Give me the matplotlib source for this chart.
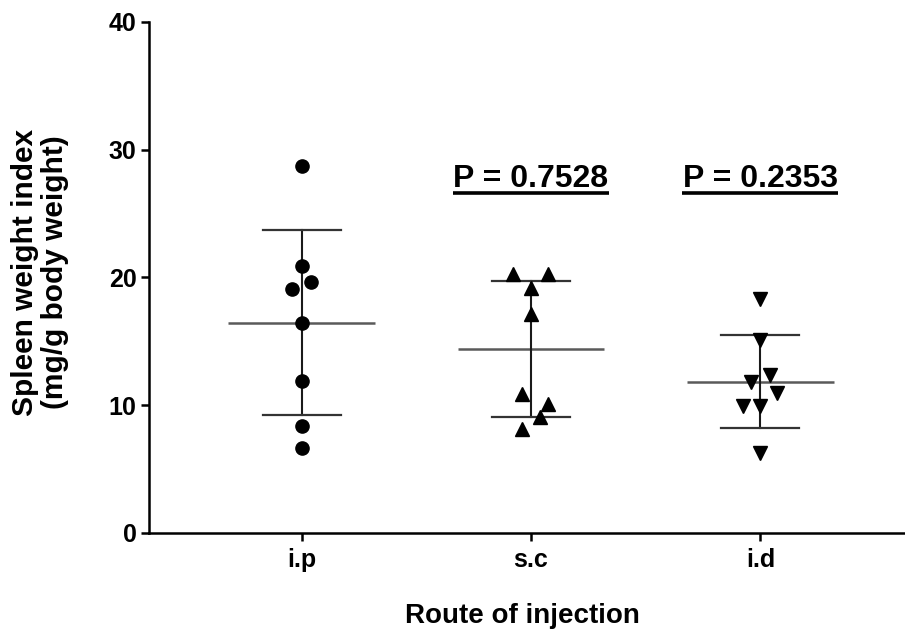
import numpy as np
import matplotlib
matplotlib.use("Agg")
import matplotlib.pyplot as plt

plt.rcParams['font.family'] = ['Liberation Sans', 'DejaVu Sans']
plt.rcParams['font.weight'] = 'bold'

categories = ["i.p", "s.c", "i.d"]
ip_values = [28.7, 20.9, 19.65, 19.1, 16.45, 11.9, 8.4, 6.65]
sc_values = [20.3, 20.3, 19.2, 17.1, 10.9, 10.1, 9.1, 8.1]
id_values = [18.3, 15.1, 12.4, 11.85, 10.95, 9.95, 9.9, 6.25]
p_labels = ["", "P = 0.7528", "P = 0.2353"]

# horizontal spread of the points (scatter layout, data-unit offsets)
ip_offsets = [0, 0, 0.04, -0.04, 0, 0, 0, 0]
sc_offsets = [-0.078, 0.074, 0, 0, -0.04, 0.074, 0.038, -0.04]
id_offsets = [0, 0, 0.04, -0.04, 0.074, -0.074, 0, 0]

groups = [ip_values, sc_values, id_values]
offsets = [ip_offsets, sc_offsets, id_offsets]
markers = ['o', '^', 'v']
msizes = [9.5, 9.5, 9.5]

fig = plt.figure(figsize=(9.05, 6.39), dpi=100)
ax = fig.add_axes([0.1646, 0.166, 0.8354, 0.7996])

for i, (vals, offs, m, ms) in enumerate(zip(groups, offsets, markers, msizes)):
    vals = np.array(vals)
    mean = vals.mean()
    sd = vals.std(ddof=1)
    # mean line
    ax.plot([i - 0.32, i + 0.32], [mean, mean], color='#5a5a5a', lw=1.8, zorder=2,
            solid_capstyle='butt')
    # SD error bar
    ax.plot([i, i], [mean - sd, mean + sd], color='#1a1a1a', lw=1.5, zorder=2)
    ax.plot([i - 0.17, i + 0.17], [mean + sd, mean + sd], color='#333333', lw=1.6, zorder=2)
    ax.plot([i - 0.17, i + 0.17], [mean - sd, mean - sd], color='#333333', lw=1.6, zorder=2)
    ax.plot(i + np.array(offs), vals, linestyle='none', marker=m, markersize=ms,
            color='black', zorder=3)
    if p_labels[i]:
        ax.text(i, 27.1, p_labels[i], ha='center', va='baseline', fontsize=23,
                fontweight='bold')
        ax.plot([i - 0.34, i + 0.34], [26.65, 26.65], color='black', lw=2.6,
                solid_capstyle='butt')

ax.set_xlim(-0.665, 2.63)
ax.set_ylim(0, 40)
ax.set_yticks([0, 10, 20, 30, 40])
ax.set_xticks(range(3))
ax.set_xticklabels(categories)
for s in ['top', 'right']:
    ax.spines[s].set_visible(False)
for s in ['left', 'bottom']:
    ax.spines[s].set_linewidth(1.8)
ax.tick_params(axis='both', width=1.8, length=6, labelsize=18, direction='out')
ax.tick_params(axis='x', pad=5)
ax.tick_params(axis='y', pad=3)
for lab in ax.get_xticklabels() + ax.get_yticklabels():
    lab.set_fontweight('bold')

fig.text(522 / 905, 1 - 623 / 639, "Route of injection", fontsize=20,
         fontweight='bold', ha='center', va='baseline')
fig.text(40 / 905, 1 - 272 / 639, "Spleen weight index\n(mg/g body weight)",
         fontsize=21.5, fontweight='bold', rotation=90, ha='center', va='center',
         multialignment='center', linespacing=1.05)

fig.savefig("out.png", dpi=100)
